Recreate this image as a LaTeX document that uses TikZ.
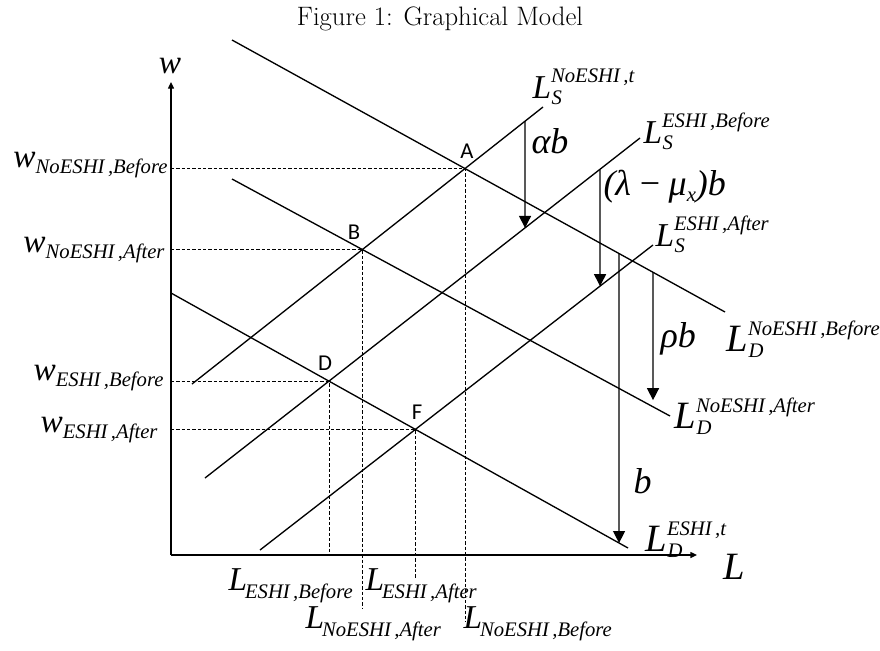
\documentclass[tikz,border=0pt]{standalone}
\usepackage{fontspec}
\usetikzlibrary{arrows.meta}
\newfontfamily\tnr{Liberation Serif}
\newfontfamily\ptf{Carlito}
\newcommand\scr{\fontsize{15.5}{15.5}\selectfont}
\newcommand\subsupL[2]{\rlap{\kern0.5pt\raisebox{-5pt}{\scr #1}}\raisebox{12pt}{\scr #2}}
\newcommand\subL[1]{\kern-1.5pt\raisebox{-6.5pt}{\scr #1}}
\newcommand\lo[1]{\raisebox{-5pt}{\scr #1}}

\tikzset{every picture/.style={line width=0.75pt}}
\tikzset{
  curve/.style={line width=1pt},
  guide/.style={line width=0.6pt, dash pattern=on 2.5pt off 1.5pt},
  shiftarrow/.style={line width=1pt, -{Triangle[length=9pt,width=9pt]}},
  axis/.style={line width=1pt, -{Triangle[length=5pt,width=4.5pt]}},
  lab/.style={font=\tnr\itshape\fontsize{25}{25}\selectfont, inner sep=0pt},
  labD/.style={font=\tnr\itshape\fontsize{29}{29}\selectfont, inner sep=0pt},
  greek/.style={font=\tnr\itshape\fontsize{27}{27}\selectfont, inner sep=0pt},
  pt/.style={font=\ptf\fontsize{17}{17}\selectfont, inner sep=0pt},
}

\begin{document}
\begin{tikzpicture}[x=0.75pt,y=0.75pt,yscale=-1,xscale=1]
\useasboundingbox (0,0) rectangle (880,650);

%Title
\node[anchor=base, font=\fontsize{20}{20}\selectfont] (title) at (440,25) {Figure 1: Graphical Model};

%Axes
\coordinate (O) at (171,555);
\coordinate (wtop) at (171,82);
\coordinate (Lend) at (697,555);
\draw[axis] (O) -- (wtop);
\draw[axis] (O) -- (Lend);
\node[lab, anchor=base] (w) at (170,73) {w};
\node[labD, anchor=base west] (L) at (723,579) {L};

%Demand lines
\coordinate (DnbS) at (232,40);  \coordinate (DnbE) at (725,312);
\coordinate (DnaS) at (232,179); \coordinate (DnaE) at (670,416);
\coordinate (DeS) at (171,293);  \coordinate (DeE) at (628,548);
\draw[curve] (DnbS) -- (DnbE);
\draw[curve] (DnaS) -- (DnaE);
\draw[curve] (DeS) -- (DeE);

%Supply lines
\coordinate (SnS) at (192,384);  \coordinate (SnE) at (543,107);
\coordinate (SebS) at (205,478); \coordinate (SebE) at (640,138);
\coordinate (SeaS) at (260,550); \coordinate (SeaE) at (653,245);
\draw[curve] (SnS) -- (SnE);
\draw[curve] (SebS) -- (SebE);
\draw[curve] (SeaS) -- (SeaE);

%Equilibria
\coordinate (A) at (intersection of SnS--SnE and DnbS--DnbE);
\coordinate (B) at (intersection of SnS--SnE and DnaS--DnaE);
\coordinate (D) at (intersection of SebS--SebE and DeS--DeE);
\coordinate (F) at (intersection of SeaS--SeaE and DeS--DeE);
\node[pt] (lA) at (467,151) {A};
\node[pt] (lB) at (354,232) {B};
\node[pt] (lD) at (325,363) {D};
\node[pt] (lF) at (417,412) {F};

%Dashed guides
\draw[guide] (O |- A) -- (A) -- (A |- 0,622);
\draw[guide] (O |- B) -- (B) -- (B |- 0,608);
\draw[guide] (O |- D) -- (D) -- (D |- O);
\draw[guide] (O |- F) -- (F) -- (F |- 0,578);

%Shift arrows
\coordinate (ab1) at (intersection of SnS--SnE and 525,0--525,650);
\coordinate (ab2) at (intersection of SebS--SebE and 525,0--525,650);
\coordinate (lm1) at (intersection of SebS--SebE and 600,0--600,650);
\coordinate (lm2) at (intersection of SeaS--SeaE and 600,0--600,650);
\coordinate (rb1) at (intersection of DnbS--DnbE and 653,0--653,650);
\coordinate (rb2) at (intersection of DnaS--DnaE and 653,0--653,650);
\coordinate (bb1) at (intersection of DnbS--DnbE and 619,0--619,650);
\coordinate (bb2) at (intersection of DeS--DeE and 619,0--619,650);
\draw[shiftarrow] (ab1) -- (ab2);
\draw[shiftarrow] (lm1) -- (lm2);
\draw[shiftarrow, shorten >=5pt] (rb1) -- (rb2);
\draw[shiftarrow] (bb1) -- (bb2);
\node[greek, anchor=base west] (alpha) at (531,153) {αb};
\node[greek, anchor=base west] (lambda) at (603,195) {(λ\kern5pt−\kern5ptμ\lo{x})b};
\node[greek, anchor=base west] (rho) at (660,347) {ρb};
\node[greek, anchor=base west] (bshift) at (633,493) {b};

%Curve labels
\node[lab, anchor=base west] (LSn) at (532,98) {L\subsupL{S}{NoESHI\,,t}};
\node[lab, anchor=base west] (LSeb) at (643,143) {L\subsupL{S}{ESHI\,,Before}};
\node[lab, anchor=base west] (LSea) at (655,246) {L\subsupL{S}{ESHI\,,After}};
\node[labD, anchor=base west] (LDnb) at (726,351) {L\subsupL{D}{NoESHI\,,Before}};
\node[labD, anchor=base west] (LDna) at (674,428) {L\subsupL{D}{NoESHI\,,After}};
\node[labD, anchor=base west] (LDe) at (645,551) {L\subsupL{D}{ESHI\,,t}};

%Wage labels
\node[lab, anchor=base east] (wnb) at (168,167) {w\lo{NoESHI\,,Before}};
\node[lab, anchor=base east] (wna) at (165,252) {w\lo{NoESHI\,,After}};
\node[lab, anchor=base east] (web) at (164,380) {w\lo{ESHI\,,Before}};
\node[lab, anchor=base east] (wea) at (158,432) {w\lo{ESHI\,,After}};

%Employment labels
\node[lab, anchor=base west] (Leb) at (228,590) {L\subL{ESHI\,,Before}};
\node[lab, anchor=base west] (Lea) at (365,590) {L\subL{ESHI\,,After}};
\node[lab, anchor=base west] (Lna) at (305,628) {L\subL{NoESHI\,,After}};
\node[lab, anchor=base west] (Lnb) at (463,628) {L\subL{NoESHI\,,Before}};

\end{tikzpicture}
\end{document}
